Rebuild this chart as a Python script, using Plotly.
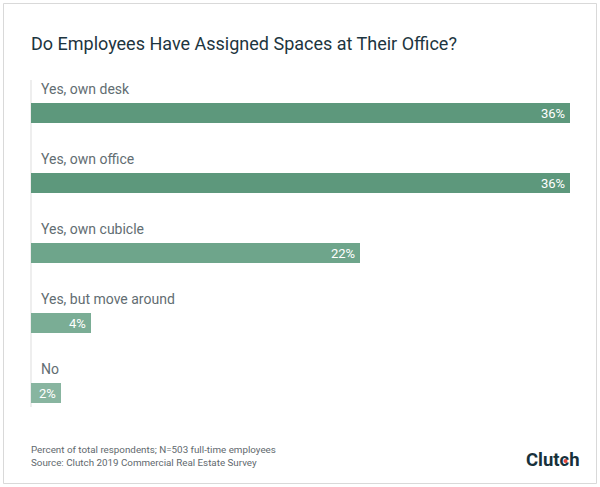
import plotly.graph_objects as go

categories = ["Yes, own desk", "Yes, own office", "Yes, own cubicle", "Yes, but move around", "No"]
values = [36, 36, 22, 4, 2]
value_labels = ["36%", "36%", "22%", "4%", "2%"]
bar_colors = ["#5d987c", "#5d987c", "#6ea58b", "#7aad95", "#88b5a0"]

title = "Do Employees Have Assigned Spaces at Their Office?"
note1 = "Percent of total respondents; N=503 full-time employees"
note2 = "Source: Clutch 2019 Commercial Real Estate Survey"
brand = "Clutch"

W, H = 600, 487
L, R, T, B = 31, 30, 78, 59
pw = W - L - R
ph = H - T - B

def px_x(p):
    return (p - L) / pw

def px_y(p):
    return (H - B - p) / ph

fig = go.Figure()
fig.add_trace(go.Bar(
    y=list(range(len(categories))),
    x=values,
    orientation="h",
    marker=dict(color=bar_colors, line=dict(width=0)),
    width=20 / 70,
    hoverinfo="skip",
))

annotations = []
for i, c in enumerate(categories):
    annotations.append(dict(
        x=0, y=i, xref="x", yref="y", text=c, showarrow=False,
        xanchor="left", yanchor="middle", xshift=8, yshift=24,
        font=dict(family="Roboto", size=14, color="#626d72"),
    ))
    annotations.append(dict(
        x=values[i], y=i, xref="x", yref="y", text=value_labels[i], showarrow=False,
        xanchor="right", yanchor="middle", xshift=-3, yshift=0,
        font=dict(family="Roboto", size=13, color="white"),
    ))

annotations += [
    dict(x=px_x(29), y=px_y(44), xref="paper", yref="paper", text=title, showarrow=False,
         xanchor="left", yanchor="middle", font=dict(family="Roboto", size=18, color="#1d3540")),
    dict(x=px_x(29), y=px_y(449), xref="paper", yref="paper", text=note1, showarrow=False,
         xanchor="left", yanchor="middle", font=dict(family="Roboto", size=9.8, color="#5f696e")),
    dict(x=px_x(29), y=px_y(462), xref="paper", yref="paper", text=note2, showarrow=False,
         xanchor="left", yanchor="middle", font=dict(family="Roboto", size=9.8, color="#5f696e")),
    dict(x=px_x(582), y=px_y(460), xref="paper", yref="paper", text="<b>" + brand + "</b>", showarrow=False,
         xanchor="right", yanchor="middle", font=dict(family="Roboto", size=18.5, color="#17313b")),
]

shapes = [
    dict(type="rect", xref="paper", yref="paper",
         x0=px_x(3.5), x1=px_x(596.5), y0=px_y(3.5), y1=px_y(483.5),
         line=dict(color="#d9d9d9", width=1), fillcolor="rgba(0,0,0,0)", layer="below"),
    dict(type="line", xref="paper", yref="paper",
         x0=0, x1=0, y0=px_y(80), y1=px_y(407),
         line=dict(color="#e8e8e8", width=1.5), layer="below"),
    dict(type="circle", xref="paper", yref="paper",
         x0=px_x(563.5), x1=px_x(567.5), y0=px_y(459), y1=px_y(463),
         fillcolor="#e8473b", line=dict(width=0), layer="above"),
]

fig.update_layout(
    width=W, height=H,
    margin=dict(l=L, r=R, t=T, b=B),
    paper_bgcolor="white", plot_bgcolor="white",
    showlegend=False,
    bargap=0,
    xaxis=dict(range=[0, 36], visible=False, fixedrange=True),
    yaxis=dict(range=[4.5, -0.5], visible=False, fixedrange=True),
    annotations=annotations,
    shapes=shapes,
)

fig.write_html("out.html", config={"displayModeBar": False},
               post_script="document.body.style.margin='0';document.body.style.padding='0';")
